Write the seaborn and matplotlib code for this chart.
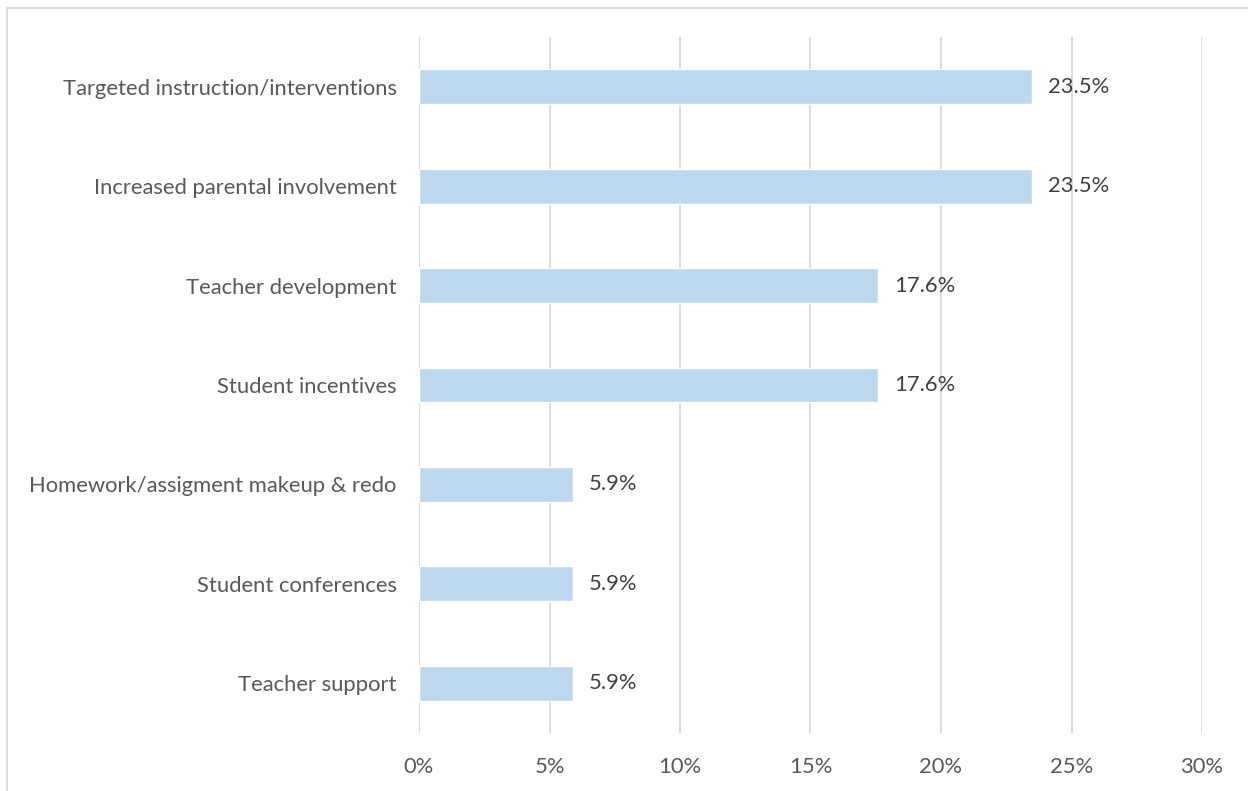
import matplotlib
matplotlib.use("Agg")
import matplotlib.pyplot as plt
from matplotlib.lines import Line2D
import seaborn as sns
import pandas as pd

categories = [
    "Targeted instruction/interventions",
    "Increased parental involvement",
    "Teacher development",
    "Student incentives",
    "Homework/assigment makeup & redo",
    "Student conferences",
    "Teacher support",
]
shares = [23.5, 23.5, 17.6, 17.6, 5.9, 5.9, 5.9]
x_ticks = [0, 5, 10, 15, 20, 25, 30]

df = pd.DataFrame({"category": categories, "share": shares})

sns.set_theme(style="white")
plt.rcParams["font.family"] = ["Lato", "DejaVu Sans"]

fig = plt.figure(figsize=(12.48, 7.91), dpi=100)
ax = fig.add_axes([419 / 1248, 1 - 733 / 791, (1202 - 419) / 1248, (733 - 37) / 791])

sns.barplot(data=df, x="share", y="category", color="#BDD7EE", saturation=1,
            width=0.35, ax=ax, zorder=3)

ax.set_xlim(0, 30)
ax.set_ylim(6.5, -0.5)
ax.set_xticks(x_ticks)
ax.set_xticklabels([f"{t}%" for t in x_ticks])
ax.xaxis.grid(True, color="#D9D9D9", linewidth=1.3, zorder=0)
ax.yaxis.grid(False)
for s in ax.spines.values():
    s.set_visible(False)
ax.set_xlabel("")
ax.set_ylabel("")
ax.tick_params(axis="x", length=0, pad=17, labelsize=15.8, labelcolor="#595959")
ax.tick_params(axis="y", length=0, pad=16, labelsize=15.8, labelcolor="#595959")

for i, v in enumerate(shares):
    ax.text(v + 0.6, i, f"{v:.1f}%", va="center", ha="left",
            fontsize=15.8, color="#404040", zorder=4)

# light frame around the chart area (top and left edges)
fig.add_artist(Line2D([7 / 1248, 1.0], [1 - 8 / 791, 1 - 8 / 791],
                      transform=fig.transFigure, color="#D9D9D9", linewidth=1.3))
fig.add_artist(Line2D([7 / 1248, 7 / 1248], [0.0, 1 - 8 / 791],
                      transform=fig.transFigure, color="#D9D9D9", linewidth=1.3))

fig.savefig("out.png", dpi=100, facecolor="white")
